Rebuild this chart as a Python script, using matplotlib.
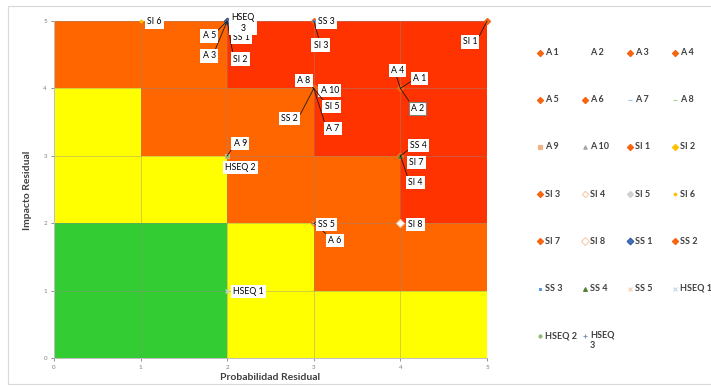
import matplotlib
matplotlib.use("Agg")
import matplotlib.pyplot as plt
import numpy as np
from matplotlib.colors import ListedColormap
from matplotlib.patches import Rectangle

plt.rcParams['font.family'] = ['Lato', 'DejaVu Sans']

# Risk zones: rows are impact bands 0-1 .. 4-5, columns probability bands 0-1 .. 4-5
# 0 = low (green), 1 = moderate (yellow), 2 = high (orange), 3 = extreme (red)
zone_levels = [
    [0, 0, 1, 1, 1],
    [0, 0, 1, 2, 2],
    [1, 1, 2, 2, 3],
    [1, 2, 2, 3, 3],
    [2, 2, 3, 3, 3],
]
zone_colors = ['#33CC33', '#FFFF00', '#FF6600', '#FF3300']

series_names = ['A 1', 'A 2', 'A 3', 'A 4', 'A 5', 'A 6', 'A 7', 'A 8', 'A 9', 'A 10',
                'SI 1', 'SI 2', 'SI 3', 'SI 4', 'SI 5', 'SI 6', 'SI 7', 'SI 8',
                'SS 1', 'SS 2', 'SS 3', 'SS 4', 'SS 5',
                'HSEQ 1', 'HSEQ 2', 'HSEQ 3']
probabilidad = [4, 4, 2, 4, 2, 3, 3, 3, 2, 3,
                5, 2, 3, 4, 3, 1, 4, 4,
                2, 3, 3, 4, 3,
                2, 2, 2]
impacto = [4, 4, 5, 4, 5, 2, 4, 4, 3, 4,
           5, 5, 5, 3, 4, 5, 3, 2,
           5, 4, 5, 3, 2,
           1, 3, 5]
axis_ticks = [0, 1, 2, 3, 4, 5]

ORG = '#F5640F'
# marker, face colour, edge colour, size
styles = {
    'A 1': ('D', ORG, ORG, 3.2), 'A 2': ('None', 'none', 'none', 0),
    'A 3': ('D', ORG, ORG, 3.2), 'A 4': ('D', ORG, ORG, 3.2),
    'A 5': ('D', ORG, ORG, 3.2), 'A 6': ('D', ORG, ORG, 3.2),
    'A 7': ('_', '#9DC3E6', '#9DC3E6', 3), 'A 8': ('_', '#A9D18E', '#A9D18E', 3),
    'A 9': ('s', '#F4B183', '#F4B183', 2.2), 'A 10': ('^', '#A5A5A5', '#A5A5A5', 2.5),
    'SI 1': ('D', ORG, ORG, 3.2), 'SI 2': ('D', '#FFC000', '#FFC000', 3.2),
    'SI 3': ('D', ORG, ORG, 3.2), 'SI 4': ('D', 'white', '#F8CBAD', 3.2),
    'SI 5': ('D', '#D0D0D0', '#D0D0D0', 3.2), 'SI 6': ('D', '#FFC000', '#FFC000', 1.6),
    'SI 7': ('D', ORG, ORG, 3.2), 'SI 8': ('D', 'white', '#F8CBAD', 3.6),
    'SS 1': ('D', '#4472C4', '#2F5597', 3.4), 'SS 2': ('D', ORG, ORG, 3.2),
    'SS 3': ('s', '#5B9BD5', '#5B9BD5', 2.0), 'SS 4': ('^', '#548235', '#548235', 2.8),
    'SS 5': ('x', '#F8CBAD', '#F8CBAD', 3), 'HSEQ 1': ('x', '#BDD7EE', '#BDD7EE', 3),
    'HSEQ 2': ('o', '#8FBC6B', '#8FBC6B', 2.2), 'HSEQ 3': ('+', '#8497B0', '#8497B0', 3.5),
}

# label offsets from the point in pixels (right, down) and the leader anchor on the box
label_offsets = {
    'A 1': (19, -10, (0, 0.3)), 'A 2': (17, 20, (0, 1)), 'A 3': (-18, 35, (0.9, 1)),
    'A 4': (-3, -18, (0.4, 0)), 'A 5': (-18, 15, (1, 0.9)), 'A 6': (21, 17, (0, 1)),
    'A 7': (19, 40, (0, 0.6)), 'A 8': (-10, -8, (0.9, 0)), 'A 9': (13, -12, (0, 0.2)),
    'A 10': (16, 2, None), 'SI 1': (-17, 21, (1, 0.7)), 'SI 2': (13, 38, (0, 1)),
    'SI 3': (7, 24, (0.4, 1)), 'SI 4': (15, 27, (0, 1)), 'SI 5': (18, 18, (0, 1)),
    'SI 6': (14, 1, None), 'SI 7': (16, 7, None), 'SI 8': (15, 1, None),
    'SS 1': (14, 16, None), 'SS 2': (-24, 30, (1, 0.5)), 'SS 3': (13, 1, None),
    'SS 4': (18, -10, (0, 0.2)), 'SS 5': (13, 1, (0, 0.9)), 'HSEQ 1': (21, 1, None),
    'HSEQ 2': (13, 12, None), 'HSEQ 3': (16, 2, None),
}

W, H = 711, 386
fig = plt.figure(figsize=(W / 100, H / 100), dpi=100)
ax = fig.add_axes([54 / W, 1 - 358 / H, (487 - 54) / W, (358 - 21) / H])

edges = np.arange(6)
ax.pcolormesh(edges, edges, np.array(zone_levels), cmap=ListedColormap(zone_colors),
              vmin=-0.5, vmax=3.5, zorder=0)
ax.set_xlim(0, 5)
ax.set_ylim(0, 5)
ax.set_xticks(axis_ticks)
ax.set_yticks(axis_ticks)
ax.grid(True, color='#8C8C8C', alpha=0.4, lw=0.7)
ax.tick_params(labelsize=4.5, colors='#7F7F7F', length=2, width=0.6, pad=3)
for s in ['top', 'right']:
    ax.spines[s].set_visible(False)
for s in ['left', 'bottom']:
    ax.spines[s].set_color('#BFBFBF')
    ax.spines[s].set_linewidth(0.7)


def display_name(n):
    return 'HSEQ\n3' if n == 'HSEQ 3' else n


for name, px, py in zip(series_names, probabilidad, impacto):
    mk, fc, ec, ms = styles[name]
    ax.plot([px], [py], linestyle='none', marker=mk, markerfacecolor=fc,
            markeredgecolor=ec, markersize=ms, markeredgewidth=0.8, clip_on=False, zorder=3)

for name, px, py in zip(series_names, probabilidad, impacto):
    dx, dy, anchor = label_offsets[name]
    edge = '#7F7F7F' if name == 'A 2' else 'none'
    arrow = None
    if anchor is not None:
        arrow = dict(arrowstyle='-', color='#1A1A1A', lw=0.6, shrinkA=0, shrinkB=0,
                     relpos=anchor)
    ax.annotate(display_name(name), (px, py), xytext=(dx, -dy), textcoords='offset pixels',
                ha='center', va='center', fontsize=6.3, color='black',
                linespacing=1.35, annotation_clip=False, zorder=5,
                bbox=dict(boxstyle='square,pad=0.25', fc='white', ec=edge, lw=0.8),
                arrowprops=arrow)

fig.text(28 / W, 1 - 190 / H, 'Impacto Residual', rotation=90, ha='center', va='center',
         fontsize=7.5, fontweight='bold', color='#404040')
fig.text(270 / W, 1 - 378 / H, 'Probabilidad Residual', ha='center', va='center',
         fontsize=7.5, fontweight='bold', color='#404040')

# chart frame
fig.patches.append(Rectangle((8 / W, 1 - 384 / H), (W - 8 + 10) / W, (384 - 6) / H,
                             transform=fig.transFigure, fill=False,
                             edgecolor='#D9D9D9', lw=0.8))

# legend, four entries per row
lg = fig.add_axes([0, 0, 1, 1], facecolor='none')
lg.set_xlim(0, W)
lg.set_ylim(H, 0)
lg.axis('off')
col_x = [540, 585, 630, 675]
row_y0, row_step = 52.5, 47.2
for i, name in enumerate(series_names):
    cx = col_x[i % 4]
    cy = row_y0 + row_step * (i // 4)
    mk, fc, ec, ms = styles[name]
    lg.plot([cx], [cy], linestyle='none', marker=mk, markerfacecolor=fc,
            markeredgecolor=ec, markersize=ms, markeredgewidth=0.8, clip_on=False)
    txt = display_name(name)
    if '\n' in txt:
        lg.text(cx + 5, cy - 5.5, txt, ha='left', va='top', fontsize=6.5,
                fontweight='bold', color='#404040', linespacing=1.25)
    else:
        lg.text(cx + 5, cy, txt, ha='left', va='center', fontsize=6.5,
                fontweight='bold', color='#404040')

fig.savefig('out.png', dpi=100)
